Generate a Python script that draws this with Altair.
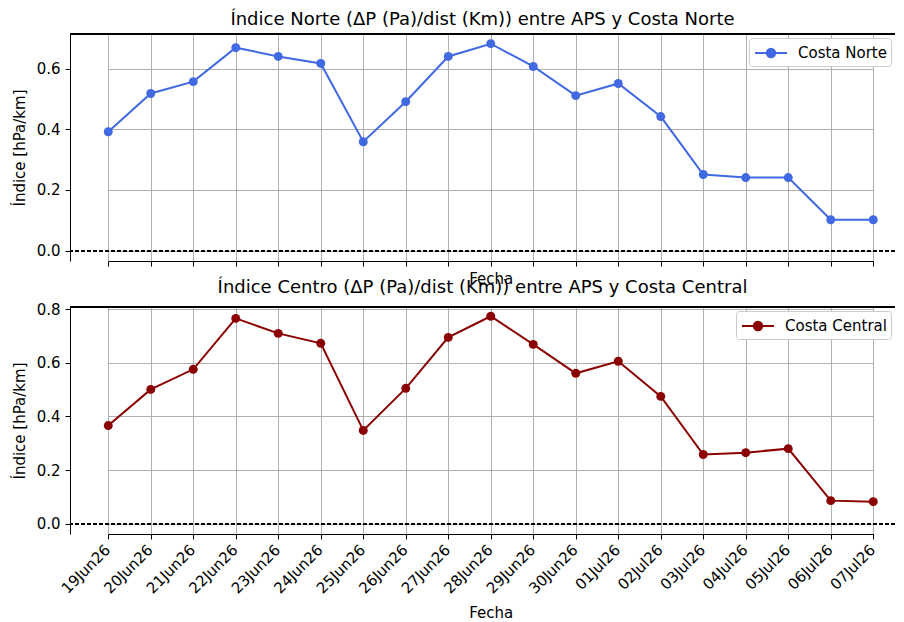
import altair as alt
import pandas as pd

fechas = ["19Jun26", "20Jun26", "21Jun26", "22Jun26", "23Jun26", "24Jun26", "25Jun26",
          "26Jun26", "27Jun26", "28Jun26", "29Jun26", "30Jun26", "01Jul26", "02Jul26",
          "03Jul26", "04Jul26", "05Jul26", "06Jul26", "07Jul26"]
norte = [0.392, 0.518, 0.557, 0.669, 0.640, 0.617, 0.359, 0.491, 0.640, 0.682,
         0.607, 0.511, 0.551, 0.442, 0.251, 0.241, 0.241, 0.102, 0.102]
central = [0.366, 0.501, 0.576, 0.766, 0.710, 0.673, 0.348, 0.505, 0.695, 0.774,
           0.669, 0.561, 0.606, 0.475, 0.258, 0.265, 0.280, 0.086, 0.082]
ticks_norte = [0.0, 0.2, 0.4, 0.6]
ticks_central = [0.0, 0.2, 0.4, 0.6, 0.8]

FONT = "DejaVu Sans"
LEGEND_SYMBOL = "M-1.6,0H1.6M-0.42,0A0.42,0.42 0 1,1 0.42,0A0.42,0.42 0 1,1 -0.42,0Z"
W = 825


def panel(values, serie, color, title, ydomain, yticks, show_labels, height):
    df = pd.DataFrame({"Fecha": fechas, "valor": values, "serie": serie})
    xaxis = alt.Axis(
        title="Fecha", labels=show_labels, labelAngle=-45, labelAlign="right",
        labelBaseline="top", labelFontSize=15, labelPadding=3, labelColor="black",
        labelOffset=-6,
        titleFontSize=15, titleFontWeight="normal", titleColor="black",
        titlePadding=5 if not show_labels else 9,
        grid=True, gridColor="#b0b0b0", gridWidth=1,
        tickSize=5, tickColor="black", domainColor="black", domainWidth=1,
    )
    yaxis = alt.Axis(
        title="Índice [hPa/km]", values=yticks, format=".1f", labelFontSize=15,
        labelColor="black", titleFontSize=15, titleFontWeight="normal",
        titleColor="black", titlePadding=9, labelPadding=5,
        grid=True, gridColor="#b0b0b0", gridWidth=1,
        tickSize=5, tickColor="black", domainColor="black", domainWidth=1,
    )
    base = alt.Chart(df)
    line = base.mark_line(strokeWidth=2, point=alt.OverlayMarkDef(size=80, filled=True, opacity=1)).encode(
        x=alt.X("Fecha:O", sort=fechas,
                scale=alt.Scale(type="point", padding=0, range=[38.25, 803.25]), axis=xaxis),
        y=alt.Y("valor:Q", scale=alt.Scale(domain=ydomain, nice=False, zero=False), axis=yaxis),
        color=alt.Color(
            "serie:N", scale=alt.Scale(domain=[serie], range=[color]),
            legend=alt.Legend(
                title=None, orient="top-right", offset=4, fillColor="white",
                strokeColor="#cccccc", cornerRadius=3, padding=4,
                labelFontSize=15, labelColor="black", labelFont=FONT, labelOffset=16,
                symbolOffset=7,
                symbolType=LEGEND_SYMBOL, symbolSize=400, symbolStrokeWidth=2,
                symbolFillColor=color, symbolStrokeColor=color, symbolOpacity=1,
            ),
        ),
    )
    zero = alt.Chart(df).mark_rule(strokeDash=[4, 2], color="black", strokeWidth=0.9).encode(
        y=alt.datum(0)
    )
    top_spine = alt.Chart(df).mark_rule(color="black", strokeWidth=1).encode(
        y=alt.value(0), x=alt.value(0), x2=alt.value(W)
    )
    return alt.layer(line, zero, top_spine).properties(
        width=W, height=height,
        title=alt.TitleParams(title, fontSize=18, fontWeight="normal", font=FONT,
                              color="black", offset=5, anchor="middle"),
    )


top = panel(norte, "Costa Norte", "#4169E1",
            "Índice Norte (ΔP (Pa)/dist (Km)) entre APS y Costa Norte",
            [-0.034, 0.714], ticks_norte, False, 227)
bottom = panel(central, "Costa Central", "#8B0000",
               "Índice Centro (ΔP (Pa)/dist (Km)) entre APS y Costa Central",
               [-0.0385, 0.8085], ticks_central, True, 227)

chart = alt.vconcat(top, bottom, spacing=46, bounds="flush").resolve_scale(
    color="independent", x="independent", y="independent"
).configure(font=FONT, padding={"left": 4, "top": 2, "right": 0, "bottom": 0}).configure_view(
    stroke=None
)

chart.save("out.html", embed_options={"renderer": "svg", "actions": False})
